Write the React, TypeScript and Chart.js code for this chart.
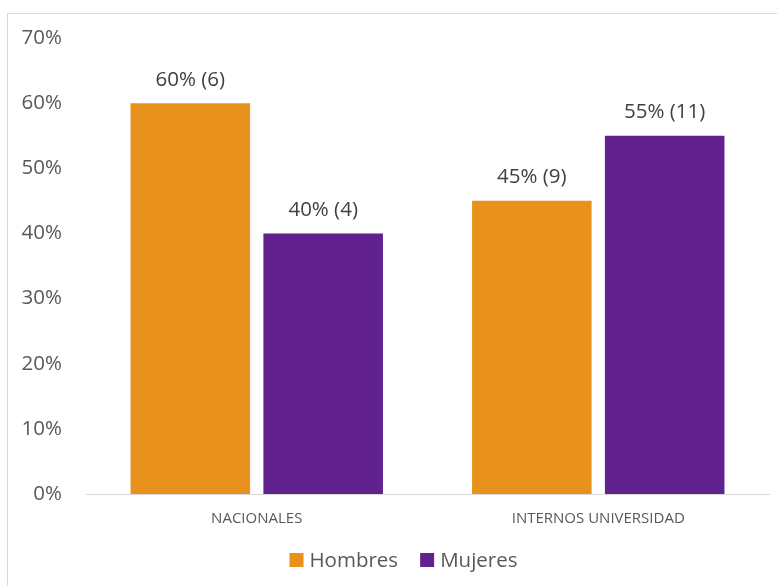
import React, { useEffect, useRef } from "react";
import { Chart, registerables } from "chart.js";

Chart.register(...registerables);

const categories = ["NACIONALES", "INTERNOS UNIVERSIDAD"];
const seriesNames = ["Hombres", "Mujeres"];
const seriesColors = ["#E8921D", "#61228F"];
const hombresPct = [0.6, 0.45];
const mujeresPct = [0.4, 0.55];
const hombresCount = [6, 9];
const mujeresCount = [4, 11];
const yTicks = [0, 0.1, 0.2, 0.3, 0.4, 0.5, 0.6, 0.7];

const FONT = "'Open Sans', 'Noto Sans', sans-serif";
const TEXT = "#595959";

const labelPlugin = {
  id: "barLabels",
  afterDatasetsDraw(chart: any) {
    const ctx = chart.ctx;
    ctx.save();
    ctx.font = `20.5px ${FONT}`;
    ctx.fillStyle = "#404040";
    ctx.textAlign = "center";
    ctx.textBaseline = "bottom";
    chart.data.datasets.forEach((ds: any, di: number) => {
      const meta = chart.getDatasetMeta(di);
      const counts = di === 0 ? hombresCount : mujeresCount;
      meta.data.forEach((bar: any, i: number) => {
        const v = Math.round(ds.data[i] * 100);
        ctx.fillText(`${v}% (${counts[i]})`, bar.x, bar.y - 13);
      });
    });
    ctx.restore();
  },
};

const legendPlugin = {
  id: "customLegend",
  afterDraw(chart: any) {
    const ctx = chart.ctx;
    const area = chart.chartArea;
    ctx.save();
    ctx.font = `20.5px ${FONT}`;
    ctx.textBaseline = "middle";
    ctx.textAlign = "left";
    const box = 14;
    const gapBoxText = 6;
    const gapItems = 22;
    const widths = seriesNames.map((n) => box + gapBoxText + ctx.measureText(n).width);
    const total = widths.reduce((a, b) => a + b, 0) + gapItems * (seriesNames.length - 1);
    let x = (area.left + area.right) / 2 - total / 2 - 24;
    const y = area.bottom + 66;
    seriesNames.forEach((n, i) => {
      ctx.fillStyle = seriesColors[i];
      ctx.fillRect(x, y - box / 2, box, box);
      ctx.fillStyle = TEXT;
      ctx.fillText(n, x + box + gapBoxText, y + 1);
      x += widths[i] + gapItems;
    });
    ctx.restore();
  },
};

export default function App() {
  const ref = useRef<HTMLCanvasElement>(null);
  useEffect(() => {
    const chart = new Chart(ref.current!, {
      type: "bar",
      data: {
        labels: categories,
        datasets: [
          {
            label: seriesNames[0],
            data: hombresPct,
            backgroundColor: seriesColors[0],
            categoryPercentage: 0.778,
            barPercentage: 0.9,
          },
          {
            label: seriesNames[1],
            data: mujeresPct,
            backgroundColor: seriesColors[1],
            categoryPercentage: 0.778,
            barPercentage: 0.9,
          },
        ],
      },
      options: {
        animation: false,
        responsive: false,
        maintainAspectRatio: false,
        layout: { padding: { top: 24, right: 8, left: 0, bottom: 48 } },
        plugins: {
          tooltip: { enabled: false },
          legend: { display: false },
        },
        scales: {
          x: {
            grid: { display: false, drawTicks: false },
            border: { color: "#d9d9d9", width: 1 },
            ticks: { font: { family: FONT, size: 15 }, color: TEXT, padding: 16 },
            afterFit: (s: any) => { s.height = 44; },
          },
          y: {
            min: 0,
            max: 0.7,
            afterBuildTicks: (s: any) => { s.ticks = yTicks.map((v) => ({ value: v })); },
            grid: { display: false, drawTicks: false },
            border: { display: false },
            ticks: {
              font: { family: FONT, size: 20.5 },
              color: TEXT,
              padding: 24,
              callback: (v: any) => `${Math.round(v * 100)}%`,
            },
            afterFit: (s: any) => {
              s.width = 78;
              s.paddingTop = 0;
              s.paddingBottom = 0;
            },
          },
        },
      },
      plugins: [labelPlugin, legendPlugin],
    });
    return () => chart.destroy();
  }, []);
  return (
    <div
      style={{
        position: "absolute",
        left: 7,
        top: 13,
        width: 771,
        height: 574,
        border: "1px solid #d9d9d9",
        background: "#fff",
      }}
    >
      <canvas ref={ref} width={769} height={572} style={{ display: "block" }} />
    </div>
  );
}
